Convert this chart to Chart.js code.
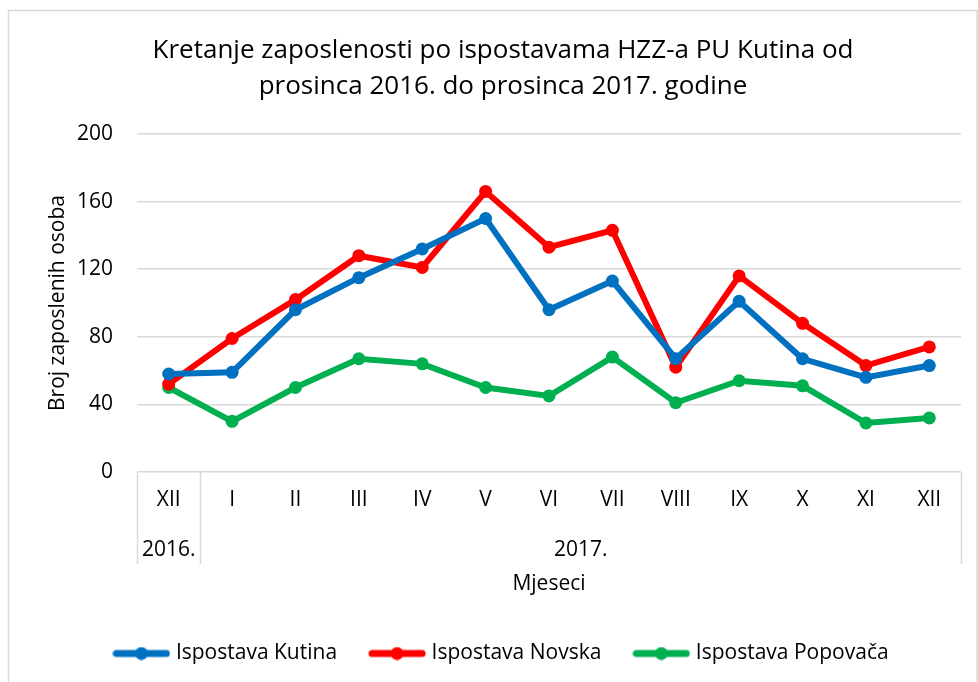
<!DOCTYPE html>
<html>
<head>
<meta charset="utf-8">
<script src="https://cdn.jsdelivr.net/npm/chart.js@4"></script>
<style>
html,body{margin:0;padding:0;background:#fff;}
#wrap{width:978px;height:682px;position:relative;}
</style>
</head>
<body>
<div id="wrap"><canvas id="c" width="978" height="682"></canvas></div>
<script>
const months = ['XII','I','II','III','IV','V','VI','VII','VIII','IX','X','XI','XII'];
const yearGroups = ['2016.','2017.'];
const yearStart = [0, 1];
const yearEnd = [0, 12];
const kutina =   [58, 59, 96, 115, 132, 150, 96, 113, 67, 101, 67, 56, 63];
const novska =   [52, 79, 102, 128, 121, 166, 133, 143, 62, 116, 88, 63, 74];
const popovaca = [50, 30, 50, 67, 64, 50, 45, 68, 41, 54, 51, 29, 32];
const yTicks = [0, 40, 80, 120, 160, 200];

const FONT = '"Open Sans", "Noto Sans", sans-serif';
const GRID = '#d9d9d9';
const FS = 21;

function legendImg(color){
  const c = document.createElement('canvas');
  c.width = 58; c.height = 14;
  const x = c.getContext('2d');
  x.strokeStyle = color; x.lineWidth = 7; x.lineCap = 'round';
  x.beginPath(); x.moveTo(4,7); x.lineTo(54,7); x.stroke();
  x.fillStyle = color; x.beginPath(); x.arc(29,7,6.5,0,Math.PI*2); x.fill();
  return c;
}

const frame = {
  id:'frame',
  beforeDraw(chart){
    const ctx = chart.ctx;
    ctx.save();
    ctx.strokeStyle = GRID; ctx.lineWidth = 1.5;
    ctx.strokeRect(8.5, 10.5, 968.5, 700);
    ctx.restore();
  }
};

const groups = {
  id:'groups',
  afterDraw(chart){
    const xs = chart.scales.x;
    const ctx = chart.ctx;
    const step = xs.getPixelForValue(1) - xs.getPixelForValue(0);
    const top = chart.chartArea.bottom;
    const bot = top + 92;
    ctx.save();
    ctx.strokeStyle = GRID; ctx.lineWidth = 1.5;
    const edges = new Set();
    for (let g=0; g<yearGroups.length; g++){
      edges.add(xs.getPixelForValue(yearStart[g]) - step/2);
      edges.add(xs.getPixelForValue(yearEnd[g]) + step/2);
    }
    edges.forEach(px=>{
      ctx.beginPath(); ctx.moveTo(Math.round(px)+0.5, top); ctx.lineTo(Math.round(px)+0.5, bot); ctx.stroke();
    });
    ctx.fillStyle = '#000';
    ctx.font = FS + 'px ' + FONT;
    ctx.textAlign = 'center'; ctx.textBaseline = 'middle';
    for (let g=0; g<yearGroups.length; g++){
      const cx = (xs.getPixelForValue(yearStart[g]) + xs.getPixelForValue(yearEnd[g]))/2;
      ctx.fillText(yearGroups[g], cx, top + 78);
    }
    ctx.restore();
  }
};

function ds(label, data, color){
  return {
    label, data,
    borderColor: color, backgroundColor: color,
    borderWidth: 6, pointRadius: 6.5, pointHoverRadius: 6.5, pointStyle: 'circle',
    pointBackgroundColor: color, pointBorderColor: color, pointBorderWidth: 0,
    tension: 0
  };
}

new Chart(document.getElementById('c'), {
  type: 'line',
  data: {
    labels: months,
    datasets: [
      ds('Ispostava Kutina', kutina, '#0070C0'),
      ds('Ispostava Novska', novska, '#FF0000'),
      ds('Ispostava Popovača', popovaca, '#00B050')
    ]
  },
  options: {
    responsive: false, animation: false,
    layout: { padding: { left: 45, right: 17, top: 0, bottom: 8 } },
    plugins: {
      title: {
        display: true,
        text: ['Kretanje zaposlenosti po ispostavama HZZ-a PU Kutina od', 'prosinca 2016. do prosinca 2017. godine'],
        color: '#000',
        font: { family: FONT, size: 26, weight: 'normal', lineHeight: 36/26 },
        padding: { top: 33, bottom: 29 }
      },
      legend: {
        position: 'bottom',
        labels: {
          usePointStyle: true, pointStyleWidth: 48,
          color: '#000', font: { family: FONT, size: FS },
          padding: 36,
          generateLabels(chart){
            return chart.data.datasets.map((d,i)=>({
              text: d.label, fillStyle: d.borderColor, strokeStyle: d.borderColor,
              lineWidth: 0, pointStyle: legendImg(d.borderColor), datasetIndex: i, hidden: false, fontColor:'#000'
            }));
          }
        }
      },
      tooltip: { enabled: false }
    },
    scales: {
      x: {
        offset: true,
        grid: { display: false },
        border: { display: false },
        ticks: { color: '#000', font: { family: FONT, size: FS }, padding: 7, maxRotation: 0, autoSkip: false },
        title: { display: true, text: 'Mjeseci', color: '#000', font: { family: FONT, size: FS }, padding: { top: 0, bottom: 10 } },
        afterFit(s){ s.height = 135; }
      },
      y: {
        min: 0, max: 200,
        afterBuildTicks(s){ s.ticks = yTicks.map(v=>({value:v})); },
        grid: { color: GRID, lineWidth: 1.5, drawTicks: false },
        border: { display: false },
        ticks: { color: '#000', font: { family: FONT, size: FS }, padding: 24 },
        title: { display: true, text: 'Broj zaposlenih osoba', color: '#000', font: { family: FONT, size: FS }, padding: { top: 0, bottom: 0 } },
        afterFit(s){ s.width = 92; }
      }
    }
  },
  plugins: [frame, groups]
});
</script>
</body>
</html>
